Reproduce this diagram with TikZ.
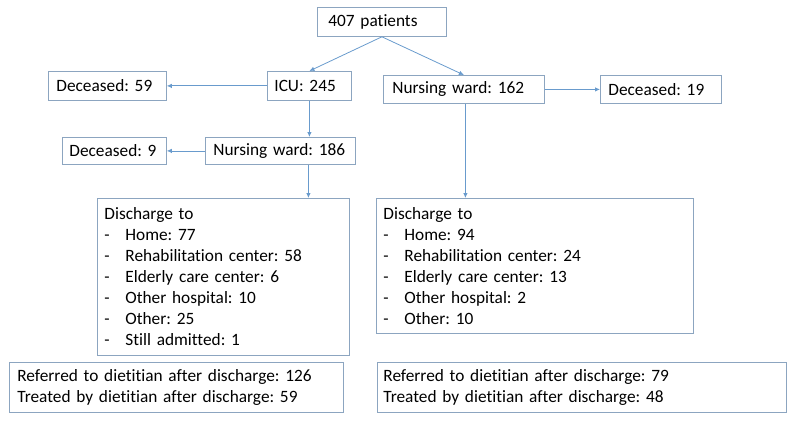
\documentclass[tikz,border=0pt]{standalone}
\usepackage{fontspec}
\setmainfont[Ligatures=NoCommon]{Carlito}
\usetikzlibrary{arrows.meta}
\definecolor{boxcol}{RGB}{140,165,192}
\definecolor{arrcol}{RGB}{105,155,205}
\newcommand{\dl}{\makebox[21pt][l]{-}}
\frenchspacing
\tikzset{
  box/.style={draw=boxcol, line width=0.8pt, rectangle, inner ysep=0pt, inner xsep=8pt,
    align=left, anchor=north west, font=\fontsize{17.3}{21}\selectfont\frenchspacing},
  arr/.style={draw=arrcol, line width=0.8pt, -{Latex[length=5pt,width=4.5pt]}}
}
\begin{document}
\begin{tikzpicture}[x=1pt,y=-1pt]
\useasboundingbox (0,0) rectangle (789,425);
\node[box, inner xsep=11pt, text width=107pt, minimum height=29pt] (p407) at (317,7) {407 patients};
\node[box, inner xsep=7pt, text width=70pt, minimum height=29pt] (icu) at (267,71) {ICU: 245};
\node[box, text width=102pt, minimum height=29pt] (d59) at (48,71) {Deceased: 59};
\node[box, inner xsep=9pt, text width=143pt, minimum height=28pt] (nw162) at (383,75) {Nursing ward: 162};
\node[box, text width=105pt, minimum height=28pt] (d19) at (600,75) {Deceased: 19};
\node[box, inner xsep=7pt, text width=90pt, minimum height=27pt] (d9) at (62,137) {Deceased: 9};
\node[box, text width=134pt, minimum height=27pt] (nw186) at (205,137) {Nursing ward: 186};
\node[box, inner xsep=7pt, text width=238pt, minimum height=157pt] (disL) at (97,198)
  {Discharge to\\\dl Home: 77\\\dl Rehabilitation center: 58\\\dl Elderly care center: 6\\\dl Other hospital: 10\\\dl Other: 25\\\dl Still admitted: 1};
\node[box, inner xsep=7pt, text width=303pt, minimum height=135pt] (disR) at (376,198)
  {Discharge to\\\dl Home: 94\\\dl Rehabilitation center: 24\\\dl Elderly care center: 13\\\dl Other hospital: 2\\\dl Other: 10};
\node[box, text width=318pt, minimum height=50pt] (refL) at (9,362)
  {Referred to dietitian after discharge: 126\\Treated by dietitian after discharge: 59};
\node[box, inner xsep=6pt, text width=397pt, minimum height=50pt] (refR) at (377,362)
  {Referred to dietitian after discharge: 79\\Treated by dietitian after discharge: 48};
\draw[arr] (p407.south) -- (icu.north);
\draw[arr] (p407.south) -- (nw162.north);
\draw[arr] (icu.west) -- (d59.east);
\draw[arr] (icu.south) -- (icu.south |- nw186.north);
\draw[arr] (nw186.west) -- (d9.east);
\coordinate (c186) at ([xshift=-1pt]icu.south |- nw186.south);
\draw[arr] (c186) -- (c186 |- disL.north);
\draw[arr] (nw162.east) -- (d19.west);
\coordinate (c162) at ([xshift=1.5pt]nw162.south);
\draw[arr] (c162) -- (c162 |- disR.north);
\end{tikzpicture}
\end{document}
